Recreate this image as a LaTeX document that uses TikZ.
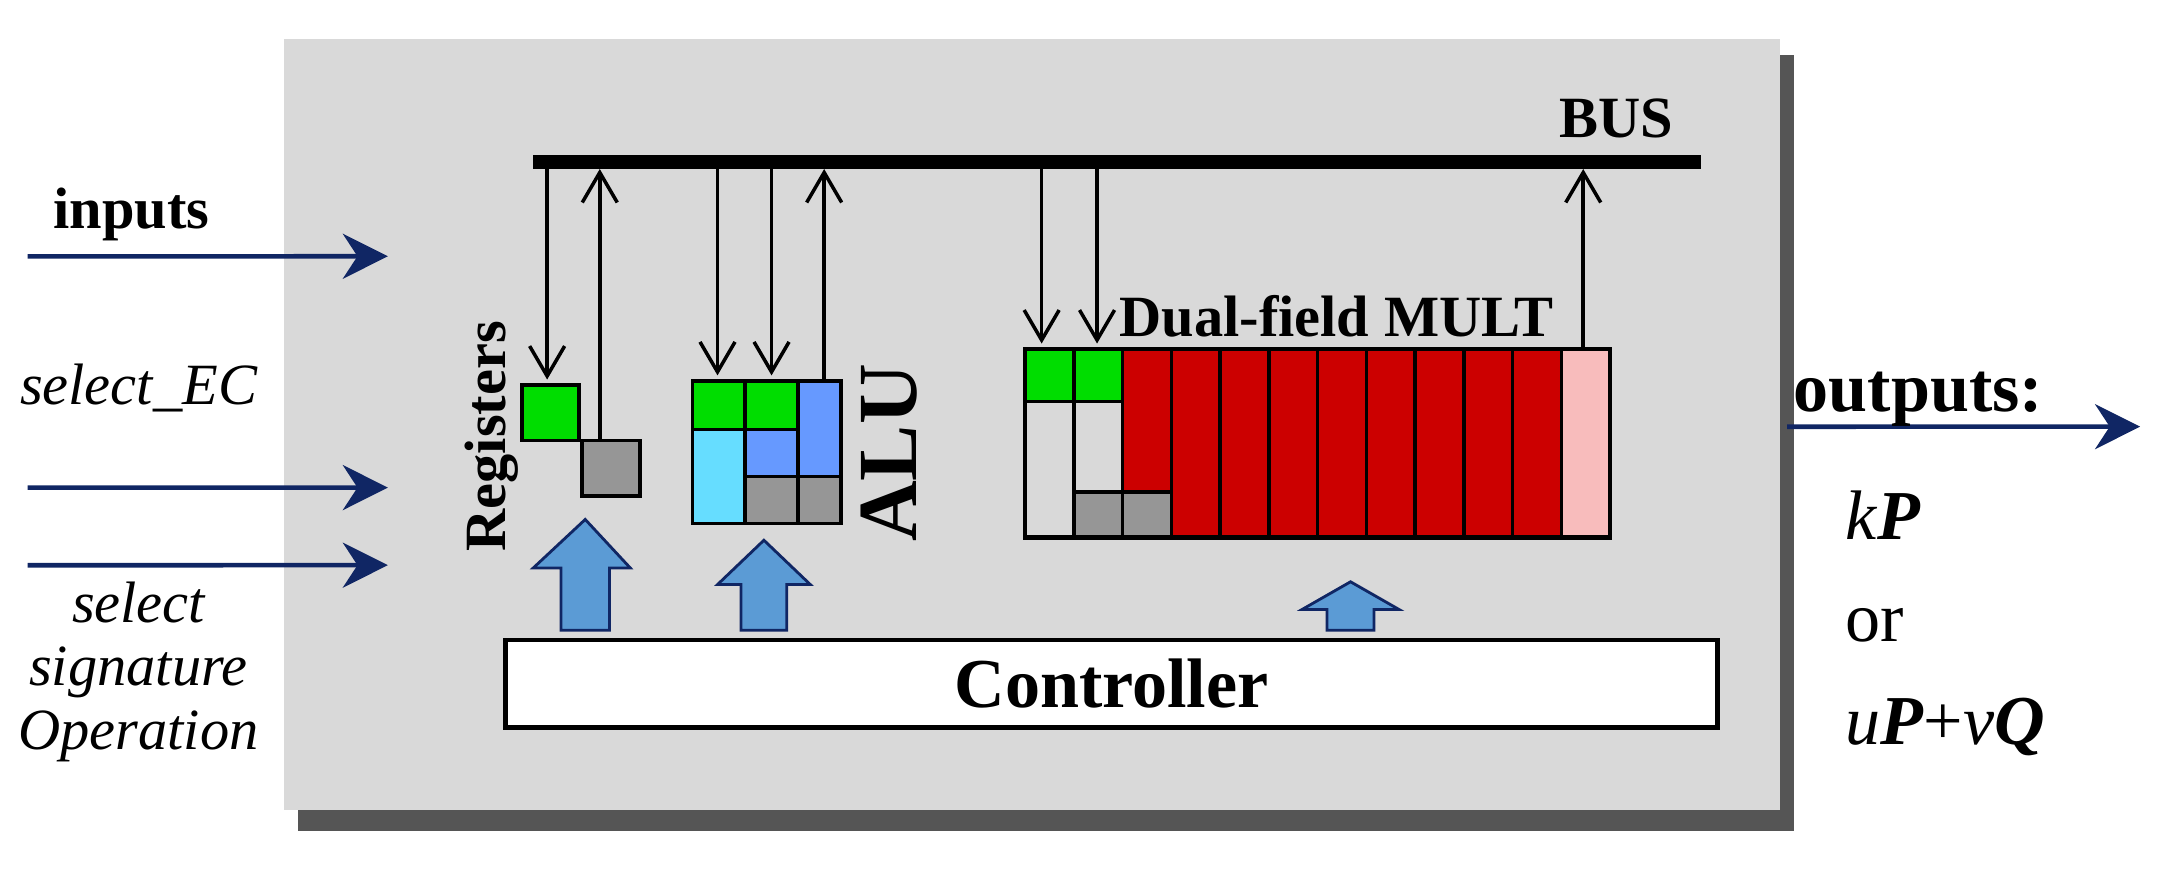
\documentclass[tikz,border=0pt]{standalone}
\usepackage{fontspec}
\setmainfont{Liberation Serif}
\usetikzlibrary{arrows.meta}
\definecolor{boxgray}{RGB}{217,217,217}
\definecolor{shadowgray}{RGB}{85,85,85}
\definecolor{navy}{RGB}{16,38,100}
\definecolor{cellgreen}{RGB}{0,221,0}
\definecolor{cellred}{RGB}{204,0,0}
\definecolor{cellpink}{RGB}{248,188,188}
\definecolor{cellblue}{RGB}{102,153,255}
\definecolor{cellcyan}{RGB}{102,221,255}
\definecolor{cellgray}{RGB}{150,150,150}
\definecolor{celllight}{RGB}{217,217,217}
\definecolor{blockblue}{RGB}{91,155,213}
\tikzset{
  io/.style={navy, line width=1.3pt, -{Stealth[length=4.5mm,width=4.5mm]}},
  busarrow/.style={line width=1pt, -{Straight Barb[length=3mm,width=3.5mm]}},
  cell/.style={draw=black, line width=1pt},
  feed/.style={draw=navy, fill=blockblue, line width=0.8pt},
  lbl/.style={font=\bfseries},
}
\newcommand{\cellat}[5]{\filldraw[cell, fill=#5] (#1,-#2) rectangle (#3,-#4);}
% block arrow: shaft left, shaft right, head left, head right, head base, tip
\newcommand{\feedarrow}[6]{\filldraw[feed] (#1,-4.55) -- (#1,#5) -- (#3,#5) -- ({(#1+#2)/2},#6) -- (#4,#5) -- (#2,#5) -- (#2,-4.55) -- cycle;}
\begin{document}
\begin{tikzpicture}[scale=1.385, transform shape]
    \useasboundingbox (0,0) rectangle (15.63,-6.30);
    % chip body
    \fill[shadowgray] (2.15,-0.40) rectangle (12.95,-6.00);
    \fill[boxgray] (2.05,-0.28) rectangle (12.85,-5.85);
    % bus
    \draw[line width=4pt] (3.85,-1.17) coordinate (busL) -- (12.28,-1.17) coordinate (busR);
    \node[lbl, font=\bfseries\large, anchor=south east] (bus) at (12.2,-1.12) {BUS};
    % inputs
    \coordinate (in1) at (0.2,-1.85);
    \coordinate (in2) at (0.2,-3.52);
    \coordinate (in3) at (0.2,-4.08);
    \draw[io] (in1) -- (2.8,-1.85);
    \draw[io] (in2) -- (2.8,-3.52);
    \draw[io] (in3) -- (2.8,-4.08);
    \node[lbl, font=\bfseries\large] (inputs) at (0.95,-1.55) {inputs};
    \node[font=\large\itshape] (selec) at (1.0,-2.8) {select\_EC};
    \node[font=\large\itshape, align=center] (selsig) at (1.0,-4.85) {select\\[-1pt] signature\\[-1pt] Operation};
    % outputs
    \coordinate (out0) at (12.9,-3.08);
    \draw[io] (out0) -- (15.45,-3.08);
    \node[lbl, font=\bfseries\Large] (outputs) at (13.85,-2.88) {outputs:};
    \node[font=\Large, anchor=west, align=left] (result) at (13.2,-4.5)
      {\textit{k}\textbf{\textit{P}}\\[3pt] or\\[3pt] \textit{u}\textbf{\textit{P}}+\textit{v}\textbf{\textit{Q}}};
    % registers
    \cellat{3.77}{2.78}{4.18}{3.18}{cellgreen}
    \cellat{4.20}{3.18}{4.62}{3.58}{cellgray}
    \node[lbl, rotate=90, font=\bfseries\large] (regs) at (3.55,-3.15) {Registers};
    \draw[busarrow] (3.95,-1.17) -- (3.95,-2.74);
    \draw[busarrow] (4.33,-3.18) -- (4.33,-1.22);
    % ALU
    \cellat{5.00}{2.75}{5.38}{3.10}{cellgreen}
    \cellat{5.38}{2.75}{5.76}{3.10}{cellgreen}
    \cellat{5.00}{3.10}{5.38}{3.78}{cellcyan}
    \cellat{5.38}{3.10}{5.76}{3.44}{cellblue}
    \cellat{5.38}{3.44}{5.76}{3.78}{cellgray}
    \cellat{5.76}{2.75}{6.07}{3.44}{cellblue}
    \cellat{5.76}{3.44}{6.07}{3.78}{cellgray}
    \node[lbl, rotate=90, font=\bfseries\LARGE] (alu) at (6.42,-3.27) {ALU};
    \draw[busarrow] (5.18,-1.17) -- (5.18,-2.71);
    \draw[busarrow] (5.57,-1.17) -- (5.57,-2.71);
    \draw[busarrow] (5.95,-2.75) -- (5.95,-1.22);
    % dual-field multiplier
    \foreach \i in {0,1} {
      \cellat{7.40+0.352*\i}{2.52}{7.752+0.352*\i}{2.90}{cellgreen}
      \cellat{7.40+0.352*\i}{2.90}{7.752+0.352*\i}{3.88}{celllight}
    }
    \cellat{7.752}{3.55}{8.104}{3.88}{cellgray}
    \cellat{8.104}{2.52}{8.456}{3.55}{cellred}
    \cellat{8.104}{3.55}{8.456}{3.88}{cellgray}
    \foreach \i in {3,...,10} {
      \cellat{7.40+0.352*\i}{2.52}{7.752+0.352*\i}{3.88}{cellred}
    }
    \cellat{11.272}{2.52}{11.624}{3.88}{cellpink}
    \draw[line width=1.3pt] (7.40,-2.52) rectangle (11.624,-3.88);
    \node[lbl, font=\bfseries\large] (mult) at (9.65,-2.28) {Dual-field MULT};
    \draw[busarrow] (7.52,-1.17) -- (7.52,-2.48);
    \draw[busarrow] (7.92,-1.17) -- (7.92,-2.48);
    \draw[busarrow] (11.43,-2.52) -- (11.43,-1.22);
    % controller
    \node[draw, line width=1.3pt, fill=white, minimum width=8.75cm, minimum height=0.63cm,
      font=\bfseries\Large] (ctrl) at (8.025,-4.935) {Controller};
    \feedarrow{4.05}{4.40}{3.85}{4.55}{-4.10}{-3.75}
    \feedarrow{5.35}{5.68}{5.18}{5.85}{-4.22}{-3.90}
    \feedarrow{9.58}{9.92}{9.40}{10.10}{-4.40}{-4.20}
\end{tikzpicture}
\end{document}
